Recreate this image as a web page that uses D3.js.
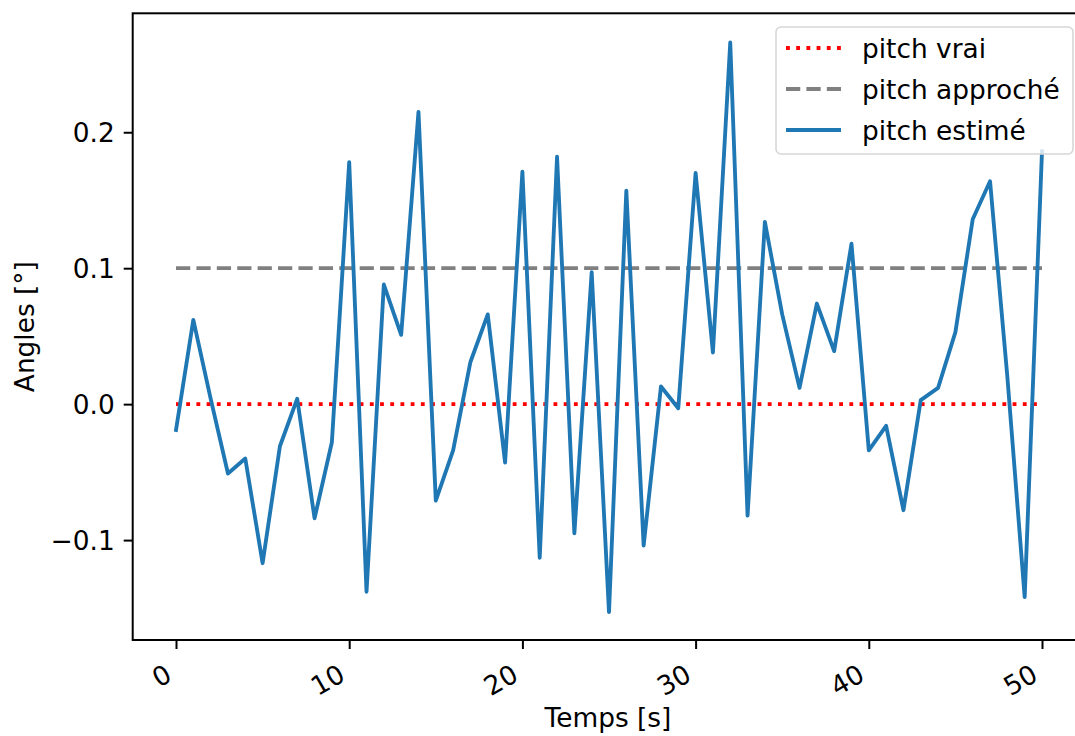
<!DOCTYPE html>
<html>
<head>
<meta charset="utf-8">
<script src="https://cdn.jsdelivr.net/npm/d3@7/dist/d3.min.js"></script>
<style>
  html, body { margin: 0; padding: 0; background: #fff; }
  svg { display: block; font-family: "DejaVu Sans", sans-serif; }
</style>
</head>
<body>
<svg id="chart" width="1075" height="736"></svg>
<script>
// Time samples (s) and pitch angle series (degrees)
const times = d3.range(0, 51);
const pitchTrue = 0.0;
const pitchApprox = 0.1;
const pitchEstimated = [
  -0.019, 0.062, 0.004, -0.051, -0.040, -0.117, -0.031, 0.004, -0.084, -0.028,
  0.178, -0.138, 0.088, 0.051, 0.215, -0.071, -0.034, 0.031, 0.066, -0.043,
  0.171, -0.113, 0.182, -0.095, 0.097, -0.153, 0.157, -0.104, 0.013, -0.003,
  0.170, 0.038, 0.266, -0.082, 0.134, 0.066, 0.012, 0.074, 0.039, 0.118,
  -0.034, -0.016, -0.078, 0.003, 0.012, 0.053, 0.136, 0.164, 0.020, -0.142,
  0.186
];
const xTicks = [0, 10, 20, 30, 40, 50];
const yTicks = [-0.1, 0.0, 0.1, 0.2];
const legendLabels = ["pitch vrai", "pitch approché", "pitch estimé"];

const xDomain = [-2.5, 52.5];
const yDomain = [-0.1735, 0.2875];

const fs = 26.4;          // base font size (px)
const lw = 3.85;          // line width (px)
const spineW = 2;
const tickLen = 9;
const pad = 9;

const plot = { left: 132.7, right: 1085.3, top: 13.3, bottom: 640 };

const svg = d3.select("#chart");
const x = d3.scaleLinear().domain(xDomain).range([plot.left, plot.right]);
const y = d3.scaleLinear().domain(yDomain).range([plot.bottom, plot.top]);

const fmtY = v => {
  const s = Math.abs(v).toFixed(1);
  return (v < -1e-12 ? "\u2212" : "") + s;
};

// clip region for data
svg.append("defs").append("clipPath").attr("id", "plotClip")
  .append("rect")
  .attr("x", plot.left).attr("y", plot.top)
  .attr("width", plot.right - plot.left).attr("height", plot.bottom - plot.top);

const g = svg.append("g").attr("clip-path", "url(#plotClip)");

const line = d3.line().x(d => x(d[0])).y(d => y(d[1]));

// true pitch (dotted red)
g.append("path")
  .datum(times.map(t => [t, pitchTrue]))
  .attr("d", line)
  .attr("fill", "none")
  .attr("stroke", "#ff0000")
  .attr("stroke-width", lw)
  .attr("stroke-dasharray", `${1 * lw} ${1.65 * lw}`);

// approximated pitch (dashed grey)
g.append("path")
  .datum(times.map(t => [t, pitchApprox]))
  .attr("d", line)
  .attr("fill", "none")
  .attr("stroke", "#808080")
  .attr("stroke-width", lw)
  .attr("stroke-dasharray", `${3.7 * lw} ${1.6 * lw}`);

// estimated pitch (solid blue)
g.append("path")
  .datum(times.map((t, i) => [t, pitchEstimated[i]]))
  .attr("d", line)
  .attr("fill", "none")
  .attr("stroke", "#1f77b4")
  .attr("stroke-width", lw)
  .attr("stroke-linejoin", "round")
  .attr("stroke-linecap", "square");

// axes: x at the bottom
const xAxis = svg.append("g")
  .attr("transform", `translate(0,${plot.bottom})`)
  .call(d3.axisBottom(x).tickValues(xTicks).tickSize(tickLen).tickPadding(0).tickFormat(d3.format("d")));
xAxis.select(".domain").remove();
xAxis.selectAll(".tick line").attr("stroke", "#000").attr("stroke-width", spineW);

// rotated tick labels: right/top of rotated box aligned under the tick
const h = fs * 1.17;
xAxis.selectAll(".tick text")
  .attr("font-size", fs)
  .attr("font-family", "DejaVu Sans")
  .attr("fill", "#000")
  .attr("text-anchor", "end")
  .attr("dominant-baseline", "central")
  .attr("y", 0)
  .attr("dy", 0)
  .attr("transform", `translate(${-h / 4},${tickLen + pad + 0.433 * h}) rotate(-30)`);

// y axis
const yAxis = svg.append("g")
  .attr("transform", `translate(${plot.left},0)`)
  .call(d3.axisLeft(y).tickValues(yTicks).tickSize(tickLen).tickPadding(pad).tickFormat(fmtY));
yAxis.select(".domain").remove();
yAxis.selectAll(".tick line").attr("stroke", "#000").attr("stroke-width", spineW);
yAxis.selectAll(".tick text")
  .attr("font-size", fs)
  .attr("font-family", "DejaVu Sans")
  .attr("fill", "#000")
  .attr("dy", "0.36em");

// spines
svg.append("rect")
  .attr("x", plot.left).attr("y", plot.top)
  .attr("width", plot.right - plot.left).attr("height", plot.bottom - plot.top)
  .attr("fill", "none").attr("stroke", "#000").attr("stroke-width", spineW);

// axis titles
svg.append("text")
  .attr("x", (plot.left + plot.right) / 2 - 1)
  .attr("y", 727)
  .attr("text-anchor", "middle")
  .attr("font-size", fs)
  .text("Temps [s]");

svg.append("text")
  .attr("transform", `translate(34,${(plot.top + plot.bottom) / 2}) rotate(-90)`)
  .attr("text-anchor", "middle")
  .attr("font-size", fs)
  .text("Angles [°]");

// legend
const leg = svg.append("g");
leg.append("rect")
  .attr("x", 776).attr("y", 27)
  .attr("width", 297).attr("height", 127)
  .attr("rx", 5).attr("ry", 5)
  .attr("fill", "#fff").attr("fill-opacity", 0.8)
  .attr("stroke", "#d6d6d6").attr("stroke-width", 1.6);

const legendStyles = [
  { color: "#ff0000", dash: `${1 * lw} ${1.65 * lw}` },
  { color: "#808080", dash: `${3.7 * lw} ${1.6 * lw}` },
  { color: "#1f77b4", dash: null }
];
const rowY = [48, 89, 130];
legendLabels.forEach((lab, i) => {
  const p = leg.append("line")
    .attr("x1", 786).attr("x2", 841)
    .attr("y1", rowY[i]).attr("y2", rowY[i])
    .attr("stroke", legendStyles[i].color)
    .attr("stroke-width", lw);
  if (legendStyles[i].dash) p.attr("stroke-dasharray", legendStyles[i].dash);
  leg.append("text")
    .attr("x", 862).attr("y", rowY[i])
    .attr("dy", "0.36em")
    .attr("font-size", fs)
    .text(lab);
});
</script>
</body>
</html>
